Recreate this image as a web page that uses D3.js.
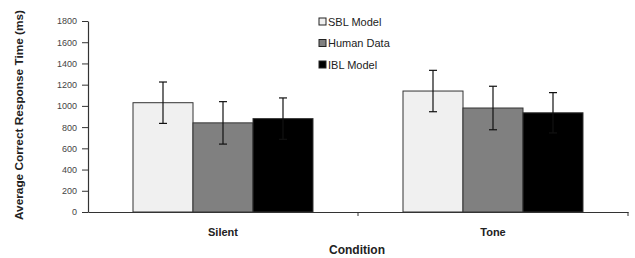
<!DOCTYPE html>
<html>
<head>
<meta charset="utf-8">
<script src="https://cdn.jsdelivr.net/npm/d3@7"></script>
<style>
  body { margin: 0; background: #fff; }
  text { font-family: Arial, "Liberation Sans", sans-serif; }
</style>
</head>
<body>
<div id="chart"></div>
<script>
// Chart data
const conditions = ['Silent', 'Tone'];
const seriesNames = ['SBL Model', 'Human Data', 'IBL Model'];
const sblValues = [1030, 1140];
const humanValues = [840, 980];
const iblValues = [880, 935];
const sblErrors = [195, 195];
const humanErrors = [200, 205];
const iblErrors = [195, 190];
const yTicks = [0, 200, 400, 600, 800, 1000, 1200, 1400, 1600, 1800];

const seriesColors = ['#f0f0f0', '#808080', '#000000'];
const allValues = [sblValues, humanValues, iblValues];
const allErrors = [sblErrors, humanErrors, iblErrors];

const width = 635, height = 258;
const margin = {left: 88, right: 7, top: 21, bottom: 46};

const svg = d3.select('#chart')
    .append('svg')
    .attr('width', width)
    .attr('height', height);

// Scales
const x = d3.scaleBand()
    .domain(conditions)
    .range([margin.left, width - margin.right]);

const x1 = d3.scaleBand()
    .domain(seriesNames)
    .range([0, x.bandwidth()])
    .paddingOuter(0.75)
    .paddingInner(0);

const y = d3.scaleLinear()
    .domain([0, 1800])
    .range([height - margin.bottom, margin.top]);

// Y axis
const yAxis = svg.append('g')
    .attr('transform', 'translate(' + margin.left + ',0)')
    .call(d3.axisLeft(y).tickValues(yTicks).tickFormat(d3.format('d'))
        .tickSize(6).tickSizeOuter(0).tickPadding(5));
yAxis.select('.domain').attr('stroke', '#333').attr('stroke-width', 1.2);
yAxis.selectAll('.tick line').attr('stroke', '#333');
yAxis.selectAll('.tick text')
    .attr('font-size', '9px')
    .attr('fill', '#444')
    .style('font-family', 'Arial, "Liberation Sans", sans-serif');

// Bars
const groups = svg.selectAll('.group')
    .data(conditions)
    .enter()
    .append('g')
    .attr('transform', function(d) { return 'translate(' + x(d) + ',0)'; });

groups.each(function(cond, ci) {
    const g = d3.select(this);
    seriesNames.forEach(function(name, si) {
        g.append('rect')
            .attr('x', x1(name))
            .attr('y', y(allValues[si][ci]))
            .attr('width', x1.bandwidth())
            .attr('height', y(0) - y(allValues[si][ci]))
            .attr('fill', seriesColors[si])
            .attr('stroke', '#333')
            .attr('stroke-width', 1);
    });
    // Error bars
    seriesNames.forEach(function(name, si) {
        const cx = x1(name) + x1.bandwidth() / 2;
        const v = allValues[si][ci];
        const e = allErrors[si][ci];
        g.append('line')
            .attr('x1', cx).attr('x2', cx)
            .attr('y1', y(v + e)).attr('y2', y(v - e))
            .attr('stroke', '#111').attr('stroke-width', 1.2);
        [v + e, v - e].forEach(function(val) {
            g.append('line')
                .attr('x1', cx - 4).attr('x2', cx + 4)
                .attr('y1', y(val)).attr('y2', y(val))
                .attr('stroke', '#111').attr('stroke-width', 1.2);
        });
    });
});

// X axis
const xAxis = svg.append('g')
    .attr('transform', 'translate(0,' + (height - margin.bottom) + ')')
    .call(d3.axisBottom(x).tickValues([]).tickSizeOuter(0));
xAxis.select('.domain').attr('stroke', '#333').attr('stroke-width', 1.2);
// boundary tick marks between categories
[conditions[1]].forEach(function(c) {
    xAxis.append('line')
        .attr('x1', x(c)).attr('x2', x(c))
        .attr('y1', 0).attr('y2', 4)
        .attr('stroke', '#333');
});
xAxis.append('line')
    .attr('x1', x.range()[1]).attr('x2', x.range()[1])
    .attr('y1', 0).attr('y2', 4)
    .attr('stroke', '#333');

conditions.forEach(function(c) {
    svg.append('text')
        .attr('x', x(c) + x.bandwidth() / 2)
        .attr('y', height - margin.bottom + 24)
        .attr('text-anchor', 'middle')
        .attr('font-size', '11px')
        .attr('font-weight', 'bold')
        .attr('fill', '#222')
        .text(c);
});

// Axis titles
svg.append('text')
    .attr('x', (margin.left + width - margin.right) / 2 - 1)
    .attr('y', height - 4)
    .attr('text-anchor', 'middle')
    .attr('font-size', '12px')
    .attr('font-weight', 'bold')
    .attr('fill', '#222')
    .text('Condition');

svg.append('text')
    .attr('transform', 'translate(23,' + 115 + ') rotate(-90)')
    .attr('text-anchor', 'middle')
    .attr('font-size', '11px')
    .attr('font-weight', 'bold')
    .attr('fill', '#222')
    .attr('textLength', 210)
    .attr('lengthAdjust', 'spacingAndGlyphs')
    .text('Average Correct Response Time (ms)');

// Legend
const legend = svg.append('g')
    .attr('transform', 'translate(319,18)');

seriesNames.forEach(function(name, i) {
    const row = legend.append('g')
        .attr('transform', 'translate(0,' + (i * 21.5) + ')');
    row.append('rect')
        .attr('width', 7)
        .attr('height', 7)
        .attr('fill', seriesColors[i])
        .attr('stroke', '#222')
        .attr('stroke-width', 1);
    row.append('text')
        .attr('x', 9)
        .attr('y', 7.5)
        .attr('font-size', '11px')
        .attr('fill', '#222')
        .text(name);
});
</script>
</body>
</html>
